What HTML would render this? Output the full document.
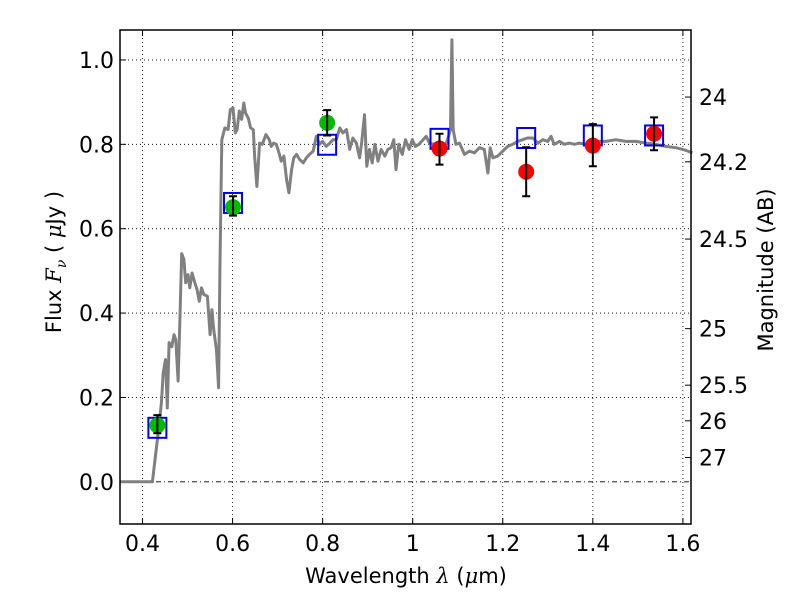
<!DOCTYPE html>
<html><head><meta charset="utf-8"><style>
body{margin:0;background:#fff;width:800px;height:600px;overflow:hidden}
svg{display:block;font-family:"DejaVu Sans","Liberation Sans",sans-serif}
</style></head><body>
<svg id="chart" width="800" height="600" viewBox="0 0 800 600"></svg>
<script>
const xTicks=[0.4,0.6,0.8,1.0,1.2,1.4,1.6];
const xTickLabels=["0.4","0.6","0.8","1","1.2","1.4","1.6"];
const yTicks=[0,0.2,0.4,0.6,0.8,1.0];
const yTickLabels=["0.0","0.2","0.4","0.6","0.8","1.0"];
const magTicks=[24,24.2,24.5,25,25.5,26,27];
const magTickLabels=["24","24.2","24.5","25","25.5","26","27"];
const specLam=[0.35,0.422,0.433,0.442,0.446,0.451,0.455,0.459,0.465,0.47,0.474,0.479,0.483,0.487,0.492,0.496,0.501,0.505,0.51,0.516,0.521,0.526,0.531,0.536,0.544,0.55,0.554,0.558,0.564,0.569,0.572,0.576,0.583,0.59,0.595,0.601,0.606,0.61,0.615,0.62,0.625,0.629,0.635,0.64,0.646,0.649,0.654,0.66,0.666,0.674,0.681,0.686,0.691,0.697,0.703,0.708,0.714,0.72,0.725,0.731,0.736,0.742,0.749,0.757,0.764,0.771,0.779,0.786,0.793,0.8,0.808,0.816,0.823,0.83,0.838,0.845,0.853,0.86,0.867,0.875,0.882,0.887,0.893,0.898,0.904,0.91,0.916,0.923,0.93,0.938,0.945,0.952,0.958,0.963,0.969,0.977,0.984,0.992,0.999,1.006,1.014,1.023,1.03,1.037,1.048,1.059,1.074,1.084,1.087,1.09,1.096,1.104,1.115,1.126,1.137,1.148,1.159,1.167,1.172,1.178,1.189,1.2,1.211,1.222,1.233,1.244,1.255,1.267,1.278,1.289,1.3,1.307,1.314,1.326,1.337,1.348,1.359,1.37,1.385,1.4,1.414,1.429,1.451,1.473,1.496,1.518,1.54,1.562,1.584,1.6,1.621];
const specFlux=[0,0,0.10,0.187,0.258,0.29,0.175,0.33,0.32,0.349,0.337,0.239,0.385,0.541,0.527,0.472,0.491,0.46,0.495,0.472,0.456,0.428,0.46,0.444,0.44,0.349,0.408,0.361,0.314,0.223,0.519,0.811,0.839,0.835,0.882,0.886,0.827,0.835,0.879,0.859,0.898,0.874,0.862,0.839,0.835,0.772,0.70,0.803,0.8,0.823,0.812,0.795,0.803,0.8,0.78,0.76,0.772,0.716,0.685,0.74,0.768,0.776,0.764,0.756,0.768,0.776,0.784,0.819,0.8,0.807,0.795,0.803,0.811,0.811,0.839,0.827,0.835,0.788,0.815,0.803,0.768,0.807,0.87,0.748,0.788,0.756,0.8,0.76,0.788,0.772,0.788,0.792,0.811,0.74,0.8,0.776,0.811,0.788,0.811,0.795,0.8,0.811,0.819,0.803,0.8,0.803,0.8,0.835,1.048,0.835,0.8,0.803,0.776,0.784,0.78,0.792,0.788,0.732,0.792,0.768,0.772,0.784,0.795,0.8,0.807,0.811,0.815,0.815,0.803,0.811,0.807,0.819,0.8,0.807,0.8,0.803,0.8,0.803,0.8,0.803,0.807,0.807,0.811,0.807,0.807,0.803,0.8,0.795,0.792,0.788,0.78];
const obsLam=[0.433,0.601,0.81,1.0595,1.252,1.4,1.536];
const obsFlux=[0.134,0.651,0.851,0.79,0.735,0.797,0.825];
const obsErrLo=[0.115,0.631,0.821,0.752,0.677,0.748,0.786];
const obsErrHi=[0.158,0.677,0.881,0.825,0.793,0.848,0.864];
const obsColor=["#00bb00","#00bb00","#00bb00","#ff0000","#ff0000","#ff0000","#ff0000"];
const modelFlux=[0.128,0.661,0.799,0.813,0.815,0.821,0.821];

const L=120,R=691,T=30,B=524,xmin=0.35,xmax=1.618,ymin=-0.1,ymax=1.071;
const sx=v=>L+(v-xmin)/(xmax-xmin)*(R-L);
const sy=v=>B-(v-ymin)/(ymax-ymin)*(B-T);
const svg=document.getElementById('chart');
const NS='http://www.w3.org/2000/svg';
function mk(tag,attrs,parent){const e=document.createElementNS(NS,tag);for(const k in attrs)e.setAttribute(k,attrs[k]);(parent||svg).appendChild(e);return e;}

xTicks.forEach((t,i)=>{
  const g=mk('line',{x1:sx(t),x2:sx(t),y1:T,y2:B,stroke:'#000','stroke-width':0.8,'stroke-dasharray':'1,3'});
  
  
  mk('line',{x1:sx(t),x2:sx(t),y1:B,y2:B-6,stroke:'#000','stroke-width':1});
  mk('line',{x1:sx(t),x2:sx(t),y1:T,y2:T+6,stroke:'#000','stroke-width':1});
  const tx=mk('text',{x:sx(t),y:B+27,'text-anchor':'middle','font-size':22,fill:'#000'});
  tx.textContent=xTickLabels[i];
  
  
});
yTicks.forEach((t,i)=>{
  const g=mk('line',{x1:L,x2:R,y1:sy(t),y2:sy(t),stroke:'#000','stroke-width':0.8,'stroke-dasharray':t===0?'5,3,1,3':'1,3'});
  
  
  mk('line',{x1:L,x2:L+6,y1:sy(t),y2:sy(t),stroke:'#000','stroke-width':1});
  const tx=mk('text',{x:L-6,y:sy(t)+8,'text-anchor':'end','font-size':22,fill:'#000'});
  tx.textContent=yTickLabels[i];
  
  
});
magTicks.forEach((m,i)=>{
  const f=Math.pow(10,(23.9-m)/2.5);
  mk('line',{x1:R,x2:R-6,y1:sy(f),y2:sy(f),stroke:'#000','stroke-width':1});
  const tx=mk('text',{x:R+8,y:sy(f)+8,'text-anchor':'start','font-size':22,fill:'#000'});
  tx.textContent=magTickLabels[i];
  
  
});

let d='';specLam.forEach((l,i)=>{d+=(i?'L':'M')+sx(l).toFixed(1)+','+sy(specFlux[i]).toFixed(1);});
const sp=mk('path',{d:d,fill:'none',stroke:'#808080','stroke-width':3,'stroke-linejoin':'round'});



obsLam.forEach((l,i)=>{
  const b=mk('rect',{x:sx(l)-9,y:sy(modelFlux[i])-10,width:18,height:20,fill:'none',stroke:'#0000ff','stroke-width':2});
  
  
});
obsLam.forEach((l,i)=>{
  const c=mk('circle',{cx:sx(l),cy:sy(obsFlux[i]),r:8,fill:obsColor[i]});
  
  
  const x=sx(l),y1=sy(obsErrLo[i]),y2=sy(obsErrHi[i]);
  const e=mk('path',{d:`M${x},${y1}L${x},${y2}M${x-4},${y1}L${x+4},${y1}M${x-4},${y2}L${x+4},${y2}`,stroke:'#000','stroke-width':2,fill:'none'});
  
  
});

const fr=mk('rect',{x:L,y:T,width:R-L,height:B-T,fill:'none',stroke:'#000','stroke-width':1.5});



const xl=mk('text',{x:406,y:583,'text-anchor':'middle','font-size':21,fill:'#000','xml:space':'preserve'});
xl.innerHTML='Wavelength  <tspan font-style="italic" font-family="DejaVu Serif,serif">λ</tspan> (<tspan font-style="italic" font-family="DejaVu Serif,serif">μ</tspan>m)';


const yl=mk('text',{x:0,y:0,'text-anchor':'middle','font-size':21,fill:'#000',transform:'translate(61,262) rotate(-90)'});
yl.innerHTML='Flux  <tspan font-style="italic" font-family="DejaVu Serif,serif">F<tspan font-size="14" dy="5">ν</tspan></tspan><tspan dy="-5">  (  </tspan><tspan font-style="italic" font-family="DejaVu Serif,serif">μ</tspan>Jy )';


const ml=mk('text',{x:0,y:0,'text-anchor':'middle','font-size':21,fill:'#000',transform:'translate(773,270) rotate(-90)'});
ml.textContent='Magnitude (AB)';


</script>
</body></html>
